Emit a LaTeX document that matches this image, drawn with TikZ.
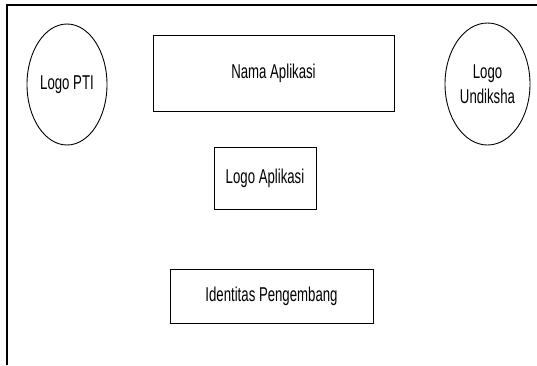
\documentclass[tikz,border=0pt]{standalone}
\usepackage{fontspec}
\setmainfont{Liberation Sans}
\usetikzlibrary{shapes.geometric}
\newcommand{\narrowtxt}[1]{\scalebox{0.66}[1]{#1}}
\tikzset{
  every node/.style={font=\fontsize{20}{25}\selectfont},
  boxnode/.style={draw=black, line width=0.9pt, inner sep=0pt, anchor=center},
  ovalnode/.style={ellipse, draw=black, line width=0.9pt, inner sep=0pt, align=center},
  frameline/.style={draw=black, line width=1.3pt}
}
\begin{document}
\begin{tikzpicture}[x=1pt, y=-1pt]
\useasboundingbox (0,0) rectangle (537,365);
\coordinate (fr) at (537,5);
\coordinate (fc) at (7,5);
\coordinate (fb) at (7,365);
\draw[frameline] (fr) -- (fc) -- (fb);
\node[ovalnode, minimum width=80pt, minimum height=121pt] (pti) at (67,84.5) {\narrowtxt{Logo PTI}};
\node[ovalnode, minimum width=85pt, minimum height=122pt] (und) at (487.5,84) {\narrowtxt{Logo}\\\narrowtxt{Undiksha}};
\node[boxnode, minimum width=241pt, minimum height=76pt] (nama) at (273.5,73) {\narrowtxt{Nama Aplikasi}};
\node[boxnode, minimum width=102pt, minimum height=62pt] (logo) at (265,178) {\narrowtxt{Logo Aplikasi}};
\node[boxnode, minimum width=203pt, minimum height=54pt] (ident) at (271.5,296) {\narrowtxt{Identitas Pengembang}};
\end{tikzpicture}
\end{document}
